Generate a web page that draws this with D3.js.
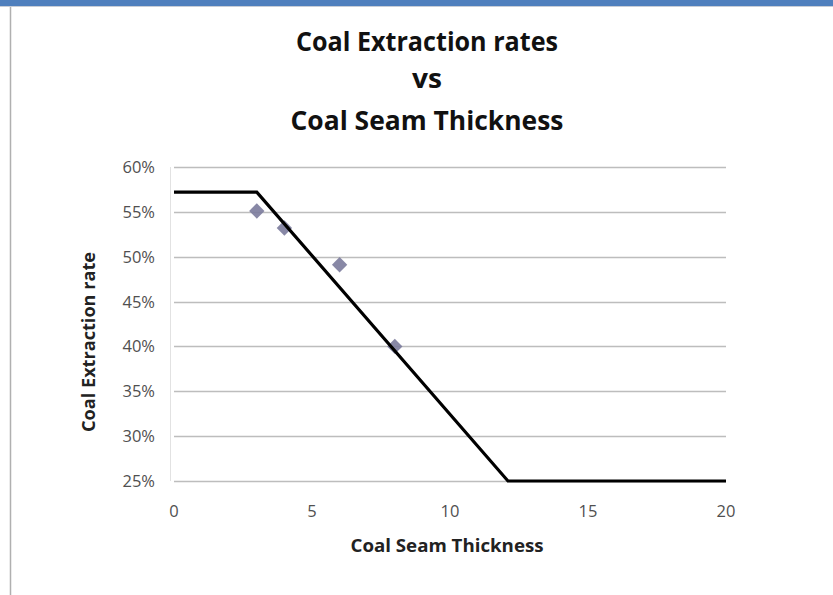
<!DOCTYPE html>
<html><head><meta charset="utf-8">
<script src="https://cdn.jsdelivr.net/npm/d3@7"></script>
<style>body{margin:0;background:#fff;}svg{display:block;}</style>
</head><body>
<script>
// Data
const titleLines = ["Coal Extraction rates", "vs", "Coal Seam Thickness"];
const xLabel = "Coal Seam Thickness";
const yLabel = "Coal Extraction rate";
const xTicks = [0, 5, 10, 15, 20];
const yTicks = [0.25, 0.30, 0.35, 0.40, 0.45, 0.50, 0.55, 0.60];
// observed points
const pointX = [3, 4, 6, 8];
const pointY = [0.551, 0.532, 0.491, 0.400];
// model line
const lineX = [0, 3, 12.1, 20];
const lineY = [0.572, 0.572, 0.25, 0.25];

const W = 833, H = 595;
const svg = d3.select("body").append("svg").attr("width", W).attr("height", H);
const font = "'Open Sans', 'Liberation Sans', sans-serif";

// frame
svg.append("rect").attr("x", 0).attr("y", 0).attr("width", W).attr("height", 6).attr("fill", "#4f7fbd");
svg.append("line").attr("x1", 0).attr("x2", W).attr("y1", 6.5).attr("y2", 6.5).attr("stroke", "#c8cdd6");
svg.append("line").attr("x1", 10.5).attr("x2", 10.5).attr("y1", 7).attr("y2", H).attr("stroke", "#b0b0b0").attr("stroke-width", 1.5);

const x = d3.scaleLinear().domain([0, 20]).range([174, 726]);
const y = d3.scaleLinear().domain([0.25, 0.60]).range([481, 167]);

// gridlines
svg.append("g").selectAll("line").data(yTicks).join("line")
  .attr("x1", x(0)).attr("x2", x(20))
  .attr("y1", d => Math.round(y(d)) + 0.5).attr("y2", d => Math.round(y(d)) + 0.5)
  .attr("stroke", "#bdbdbd").attr("stroke-width", 1.3);
svg.append("line").attr("x1", x(0) - 3.5).attr("x2", x(0) - 3.5).attr("y1", y(0.6)).attr("y2", y(0.25))
  .attr("stroke", "#e2e2e2").attr("stroke-width", 1);

// y tick labels
svg.append("g").selectAll("text").data(yTicks).join("text")
  .attr("x", 155).attr("y", d => y(d) + 6)
  .attr("text-anchor", "end").attr("font-family", font).attr("font-size", 16.5)
  .attr("fill", "#505050").text(d => d3.format(".0%")(d));
// x tick labels
svg.append("g").selectAll("text").data(xTicks).join("text")
  .attr("x", d => x(d)).attr("y", 517)
  .attr("text-anchor", "middle").attr("font-family", font).attr("font-size", 16.5)
  .attr("fill", "#505050").text(d => d);

// title
const titleY = [51, 88, 130];
const titleW = [262, 30, 273];
svg.append("g").selectAll("text").data(titleLines).join("text")
  .attr("x", 427).attr("y", (d, i) => titleY[i])
  .attr("text-anchor", "middle").attr("font-family", font).attr("font-weight", "bold")
  .attr("font-size", 27).attr("fill", "#111")
  .attr("textLength", (d, i) => titleW[i]).attr("lengthAdjust", "spacingAndGlyphs")
  .text(d => d);

// axis labels
svg.append("text").attr("x", 447).attr("y", 552).attr("text-anchor", "middle")
  .attr("font-family", font).attr("font-weight", "bold").attr("font-size", 17.5).attr("fill", "#222")
  .attr("textLength", 193).attr("lengthAdjust", "spacingAndGlyphs").text(xLabel);
svg.append("text").attr("transform", "translate(95,342) rotate(-90)").attr("text-anchor", "middle")
  .attr("font-family", font).attr("font-weight", "bold").attr("font-size", 17.5).attr("fill", "#222")
  .attr("textLength", 180).attr("lengthAdjust", "spacingAndGlyphs").text(yLabel);

// points
const pts = pointX.map((d, i) => [d, pointY[i]]);
svg.append("g").selectAll("path").data(pts).join("path")
  .attr("transform", d => `translate(${x(d[0])},${y(d[1])})`)
  .attr("d", d3.symbol(d3.symbolDiamond2, 150)())
  .attr("fill", "#7b7b9c").attr("opacity", 0.9);

// line
const lpts = lineX.map((d, i) => [d, lineY[i]]);
svg.append("path").datum(lpts)
  .attr("d", d3.line().x(d => x(d[0])).y(d => y(d[1])))
  .attr("fill", "none").attr("stroke", "#000").attr("stroke-width", 3.2);
</script>
</body></html>
